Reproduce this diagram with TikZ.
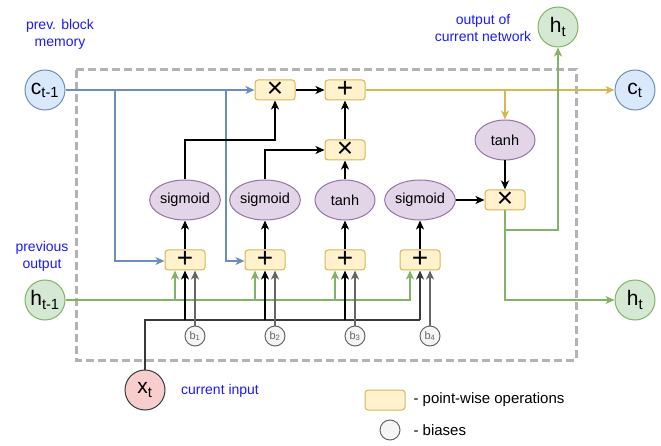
\documentclass[tikz,border=0pt]{standalone}
\usepackage{fontspec}
\setmainfont{Liberation Sans}
\usetikzlibrary{arrows.meta,shapes.geometric}

\definecolor{opfill}{HTML}{FFF2CC}
\definecolor{opline}{HTML}{D6B656}
\definecolor{actfill}{HTML}{E1D5E7}
\definecolor{actline}{HTML}{9673A6}
\definecolor{memfill}{HTML}{DAE8FC}
\definecolor{memline}{HTML}{6C8EBF}
\definecolor{hidfill}{HTML}{D5E8D4}
\definecolor{hidline}{HTML}{82B366}
\definecolor{inpfill}{HTML}{F8CECC}
\definecolor{inpline}{HTML}{36393D}
\definecolor{biasfill}{HTML}{F5F5F5}
\definecolor{biasline}{HTML}{666666}
\definecolor{notetext}{HTML}{1A1AFF}
\definecolor{framegray}{HTML}{B3B3B3}

\begin{document}
\begin{tikzpicture}[x=1pt,y=-1pt,
        >={Stealth[length=9pt,width=8pt,inset=2.5pt]},
        op/.style={draw=opline,fill=opfill,rounded corners=3pt,minimum width=40pt,minimum height=20pt,inner sep=0pt,line width=1pt,text height=15pt,text depth=-1.5pt,font=\fontsize{28}{28}\selectfont},
        act/.style={ellipse,draw=actline,fill=actfill,minimum width=60pt,minimum height=40pt,inner sep=0pt,line width=1pt,font=\fontsize{14.5}{16}\selectfont},
        cellvar/.style={circle,minimum size=40pt,inner sep=0pt,line width=1pt,font=\fontsize{21}{22}\selectfont},
        bias/.style={circle,draw=biasline,fill=biasfill,minimum size=20pt,inner sep=0pt,line width=1pt,text=biasline,font=\fontsize{11}{12}\selectfont},
        note/.style={align=center,text=notetext,font=\fontsize{14}{17}\selectfont},
        legend/.style={anchor=west,font=\fontsize{15}{17}\selectfont},
        wire/.style={line width=1.7pt},
        memwire/.style={wire,draw=memline},
        outwire/.style={wire,draw=opline},
        hidwire/.style={wire,draw=hidline},
        biaswire/.style={wire,draw=biasline}]
        \useasboundingbox (0,0) rectangle (661,446);
        \draw[framegray,line width=3pt,dash pattern=on 8pt off 4pt] (76,70) rectangle (576,360);

        \node[cellvar,draw=memline,fill=memfill] (cprev) at (45,90) {c\textsubscript{t-1}};
        \node[cellvar,draw=memline,fill=memfill] (ct) at (635,90) {c\textsubscript{t}};
        \node[cellvar,draw=hidline,fill=hidfill] (hprev) at (45,300) {h\textsubscript{t-1}};
        \node[cellvar,draw=hidline,fill=hidfill] (hright) at (635,300) {h\textsubscript{t}};
        \node[cellvar,draw=hidline,fill=hidfill] (htop) at (558,27) {h\textsubscript{t}};
        \node[cellvar,draw=inpline,fill=inpfill] (xt) at (145,390) {x\textsubscript{t}};

        \node[note] (notec) at (60,34) {prev. block\\memory};
        \node[note] (noteh) at (42,256) {previous\\output};
        \node[note] (noteo) at (483,28) {output of\\current network};
        \node[note] (notex) at (220,391) {current input};

        \node[op] (mulf) at (275,90) {×};
        \node[op] (addc) at (345,90) {+};
        \node[op] (mulg) at (345,150) {×};
        \node[op] (mulo) at (505,200) {×};
        \node[act] (tanho) at (505,140) {tanh};

        \node[act] (sig1) at (185,200) {sigmoid};
        \node[act] (sig2) at (265,200) {sigmoid};
        \node[act] (tanh1) at (345,200) {tanh};
        \node[act] (sig3) at (420,200) {sigmoid};

        \node[op] (add1) at (185,260) {+};
        \node[op] (add2) at (265,260) {+};
        \node[op] (add3) at (345,260) {+};
        \node[op] (add4) at (420,260) {+};

        \node[bias] (b1) at (195,336) {b\textsubscript{1}};
        \node[bias] (b2) at (275,336) {b\textsubscript{2}};
        \node[bias] (b3) at (355,336) {b\textsubscript{3}};
        \node[bias] (b4) at (430,336) {b\textsubscript{4}};

        \coordinate (jc1) at (115,90);
        \coordinate (jc2) at (226,90);
        \coordinate (jy) at (505,90);
        \coordinate (jg) at (505,230);
        \coordinate (xbus) at (420,320);

        \draw[memwire,->] (cprev) -- (mulf);
        \draw[memwire,->] (jc1) |- ([yshift=-1pt]add1.west);
        \draw[memwire,->] (jc2) |- ([yshift=-1pt]add2.west);
        \draw[outwire,->] (addc) -- (ct);
        \draw[outwire,->] (jy) -- (tanho);

        \draw[wire,->] (mulf) -- (addc);
        \draw[wire,->] (mulg) -- (addc);
        \draw[wire,->] (tanh1) -- (mulg);
        \draw[wire,->] (sig2) |- (mulg);
        \draw[wire,->] (sig1) -- ++(0,-60) -| (mulf);
        \draw[wire,->] (tanho) -- (mulo);
        \draw[wire,->] (sig3) -- (mulo);
        \foreach \g/\s in {1/sig1,2/sig2,3/tanh1,4/sig3}
            \draw[wire,->] (add\g) -- (\s);

        \draw[hidwire,->] (mulo) |- (hright);
        \draw[hidwire,->] (jg) -| (htop);

        \foreach \g in {1,2,3,4}
            \draw[hidwire,->] (hprev) -| ([xshift=-10pt]add\g.south);

        \draw[line width=2.5pt,draw=inpline] (xt) |- (xbus);
        \draw[wire,draw=inpline,->] (xbus) -- (add4);
        \foreach \g in {1,2,3}
            \draw[wire,->] (add\g |- xbus) -- (add\g);

        \foreach \g in {1,2,3,4}
            \draw[biaswire,->] (b\g) -- (b\g |- add\g.south);

        \node[op] (legop) at (385,400) {};
        \node[legend] (legoptext) at (410,400) {- point-wise operations};
        \node[bias] (legbias) at (390,430) {};
        \node[legend] (legbiastext) at (410,430) {- biases};
    \end{tikzpicture}
\end{document}
